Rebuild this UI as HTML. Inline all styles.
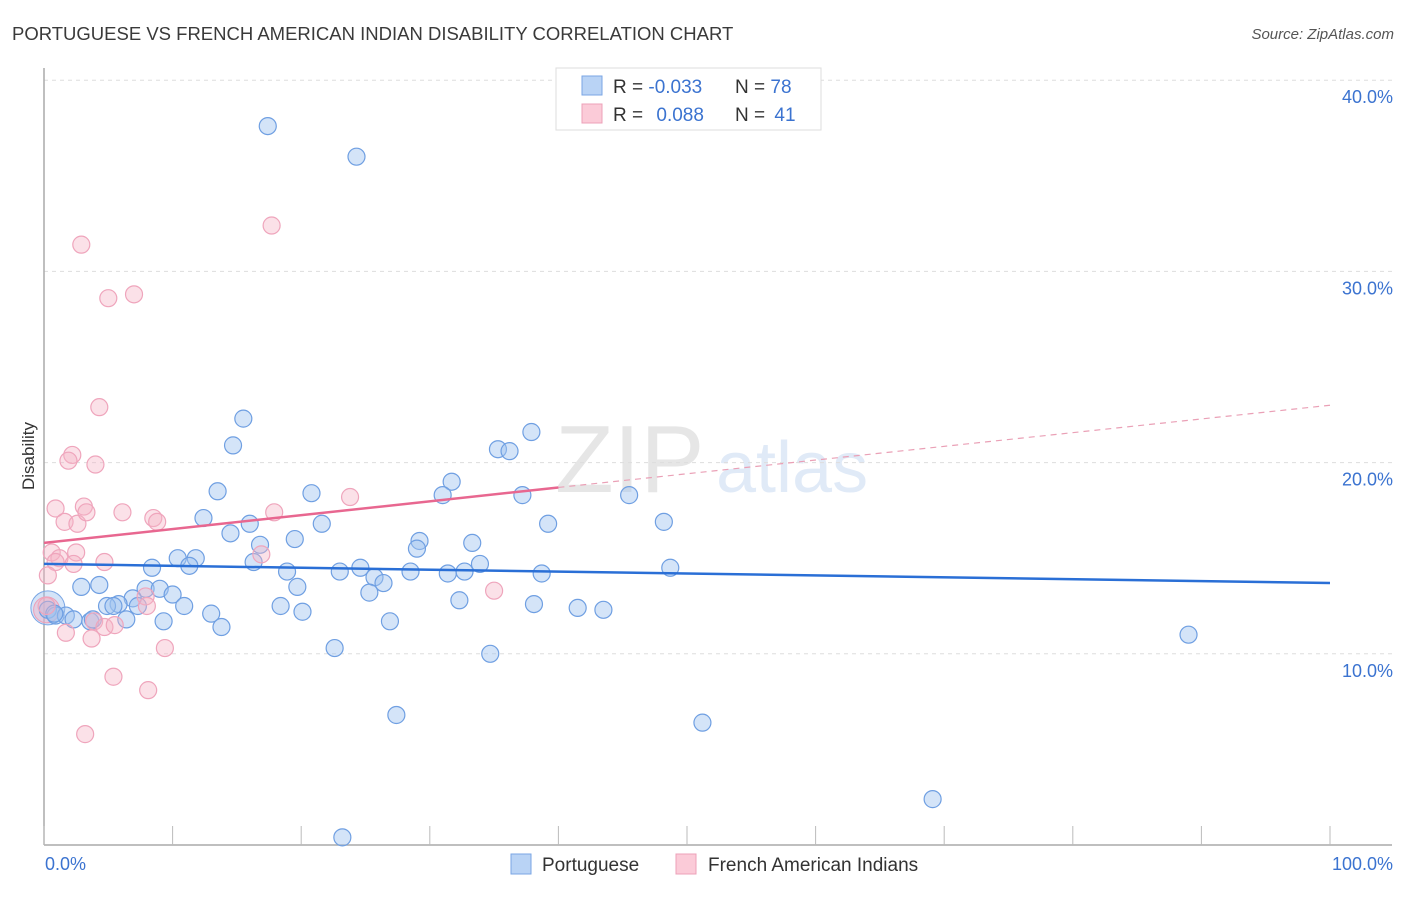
<!DOCTYPE html>
<html><head><meta charset="utf-8"><style>
body{margin:0;background:#fff;font-family:"Liberation Sans",sans-serif;}
svg text{font-family:"Liberation Sans",sans-serif;}
</style></head><body>
<svg id="chart" width="1406" height="892" xmlns="http://www.w3.org/2000/svg">
<text x="12" y="40" font-size="18.5" fill="#3a3a3a">PORTUGUESE VS FRENCH AMERICAN INDIAN DISABILITY CORRELATION CHART</text>
<text x="1394" y="39" font-size="15" font-style="italic" fill="#555" text-anchor="end">Source: ZipAtlas.com</text>
<g opacity="0.18">
<text x="555" y="492" font-size="96" font-family="Liberation Serif" fill="#777">ZIP</text>
<text x="716" y="492" font-size="72" fill="#5b8fd8">atlas</text>
</g>
<g id="grid"></g>
<g id="axes"></g>
<g id="pts"></g>
<g id="trend"></g>
<text transform="translate(34,456) rotate(-90)" font-size="17" fill="#333" text-anchor="middle">Disability</text>
<g>
<rect x="556" y="68" width="265" height="62" fill="#fff" stroke="#ddd"/>
<rect x="582" y="76" width="20" height="19" fill="#b9d3f5" stroke="#7aa6e4"/>
<rect x="582" y="104" width="20" height="19" fill="#fbcbd8" stroke="#eda0b8"/>
<text x="613" y="93" font-size="19" fill="#333">R = <tspan fill="#3b73d0">-0.033</tspan></text>
<text x="735" y="93" font-size="19" fill="#333">N = <tspan fill="#3b73d0">78</tspan></text>
<text x="613" y="121" font-size="19" fill="#333">R = <tspan fill="#3b73d0" dx="8">0.088</tspan></text>
<text x="735" y="121" font-size="19" fill="#333">N = <tspan fill="#3b73d0" dx="4">41</tspan></text>
</g>
<g>
<rect x="511" y="854" width="20" height="20" fill="#b9d3f5" stroke="#7aa6e4"/>
<text x="542" y="871" font-size="19" fill="#333">Portuguese</text>
</g>
<g>
<rect x="676" y="854" width="20" height="20" fill="#fbcbd8" stroke="#eda0b8"/>
<text x="708" y="871" font-size="19" fill="#333">French American Indians</text>
</g>
</svg>
<script>
const yTicks=[10,20,30,40];
const yTickLabels=["10.0%","20.0%","30.0%","40.0%"];
const xTickLabels=["0.0%","100.0%"];
const blueX=[17.4,24.3,15.5,14.7,35.3,36.2,37.9,13.5,20.8,31.7,31.0,37.2,45.5,12.4,16.0,14.5,21.6,39.2,48.2,19.5,29.2,29.0,33.3,16.8,10.4,11.8,11.3,8.4,16.3,18.9,23.0,24.6,25.7,26.4,28.5,31.4,32.7,33.9,38.7,48.7,4.3,2.9,7.9,9.0,10.0,25.3,19.7,32.3,38.1,41.5,43.5,6.9,5.8,4.9,10.9,13.0,18.4,20.1,7.3,0.3,0.9,1.7,2.3,3.6,6.4,9.3,13.8,26.9,89.0,22.6,34.7,27.4,51.2,69.1,23.2,5.4,3.8,0.8];
const blueY=[37.6,36.0,22.3,20.9,20.7,20.6,21.6,18.5,18.4,19.0,18.3,18.3,18.3,17.1,16.8,16.3,16.8,16.8,16.9,16.0,15.9,15.5,15.8,15.7,15.0,15.0,14.6,14.5,14.8,14.3,14.3,14.5,14.0,13.7,14.3,14.2,14.3,14.7,14.2,14.5,13.6,13.5,13.4,13.4,13.1,13.2,13.5,12.8,12.6,12.4,12.3,12.9,12.6,12.5,12.5,12.1,12.5,12.2,12.5,12.3,12.0,12.0,11.8,11.7,11.8,11.7,11.4,11.7,11.0,10.3,10.0,6.8,6.4,2.4,0.4,12.5,11.8,12.1];
const pinkX=[2.9,5.0,7.0,17.7,4.3,2.2,1.9,4.0,0.9,3.1,1.6,2.6,3.3,6.1,8.5,8.8,17.9,23.8,16.9,0.6,1.2,0.9,2.5,2.3,4.7,0.3,0.2,3.9,4.7,5.5,7.9,8.0,35.0,1.7,3.7,9.4,5.4,8.1,3.2];
const pinkY=[31.4,28.6,28.8,32.4,22.9,20.4,20.1,19.9,17.6,17.7,16.9,16.8,17.4,17.4,17.1,16.9,17.4,18.2,15.2,15.3,15.0,14.8,15.3,14.7,14.8,14.1,12.5,11.7,11.4,11.5,13.0,12.5,13.3,11.1,10.8,10.3,8.8,8.1,5.8];
const blueTrend=[[0,14.7],[100,13.7]];
const pinkTrendSolid=[[0,15.8],[40,18.7]];
const pinkTrendDashed=[[40,18.7],[100,23.0]];

const NS="http://www.w3.org/2000/svg";
const X0=44,X1=1330,Y0=845,PX10=191.2;
const sx=v=>X0+(X1-X0)*v/100;
const sy=v=>Y0-PX10*v/10;
function mk(tag,attrs,parent){const e=document.createElementNS(NS,tag);for(const k in attrs)e.setAttribute(k,attrs[k]);parent.appendChild(e);return e;}
const grid=document.getElementById('grid'),axes=document.getElementById('axes'),pts=document.getElementById('pts'),trend=document.getElementById('trend');
yTicks.forEach((t,i)=>{
  const l=mk('line',{x1:X0,x2:1392,y1:sy(t),y2:sy(t),stroke:'#ddd','stroke-dasharray':'4,4'},grid);
  
  
  const tx=mk('text',{x:1393,y:sy(t)+23,'font-size':18,fill:'#3b73d0','text-anchor':'end'},grid);
  tx.textContent=yTickLabels[i];
  
  
});
let a=mk('line',{x1:X0,x2:X0,y1:68,y2:Y0,stroke:'#aaa','stroke-width':1.5},axes);


a=mk('line',{x1:X0,x2:1392,y1:Y0,y2:Y0,stroke:'#aaa','stroke-width':1.5},axes);


for(let i=0;i<=10;i++){
  const t=mk('line',{x1:sx(i*10),x2:sx(i*10),y1:826,y2:Y0,stroke:'#bbb'},axes);
  
  
}
[[0,'start',45],[1,'end',1393]].forEach(([i,anc,x])=>{
  const t=mk('text',{x:x,y:870,'font-size':18,fill:'#3b73d0','text-anchor':anc},axes);
  t.textContent=xTickLabels[i];
  
  
});
let big=mk('circle',{cx:sx(0.3),cy:sy(12.4),r:17,fill:'rgba(160,196,240,0.45)',stroke:'#7aa6e4'},pts);


big=mk('circle',{cx:sx(0.2),cy:sy(12.3),r:13,fill:'rgba(244,170,190,0.4)',stroke:'#eda0b8'},pts);


blueX.forEach((x,i)=>{
  const c=mk('circle',{cx:sx(x),cy:sy(blueY[i]),r:8.5,fill:'rgba(160,196,240,0.45)',stroke:'#6f9fe2','stroke-width':1.2},pts);
  
  
});
pinkX.forEach((x,i)=>{
  const c=mk('circle',{cx:sx(x),cy:sy(pinkY[i]),r:8.5,fill:'rgba(246,180,198,0.4)',stroke:'#efa5bc','stroke-width':1.2},pts);
  
  
});
let tl=mk('line',{x1:sx(blueTrend[0][0]),y1:sy(blueTrend[0][1]),x2:sx(blueTrend[1][0]),y2:sy(blueTrend[1][1]),stroke:'#2a6fd6','stroke-width':2.5},trend);


tl=mk('line',{x1:sx(pinkTrendSolid[0][0]),y1:sy(pinkTrendSolid[0][1]),x2:sx(pinkTrendSolid[1][0]),y2:sy(pinkTrendSolid[1][1]),stroke:'#e86790','stroke-width':2.5},trend);


tl=mk('line',{x1:sx(pinkTrendDashed[0][0]),y1:sy(pinkTrendDashed[0][1]),x2:sx(pinkTrendDashed[1][0]),y2:sy(pinkTrendDashed[1][1]),stroke:'#eaa0b6','stroke-width':1.2,'stroke-dasharray':'6,5'},trend);


</script>
</body></html>
